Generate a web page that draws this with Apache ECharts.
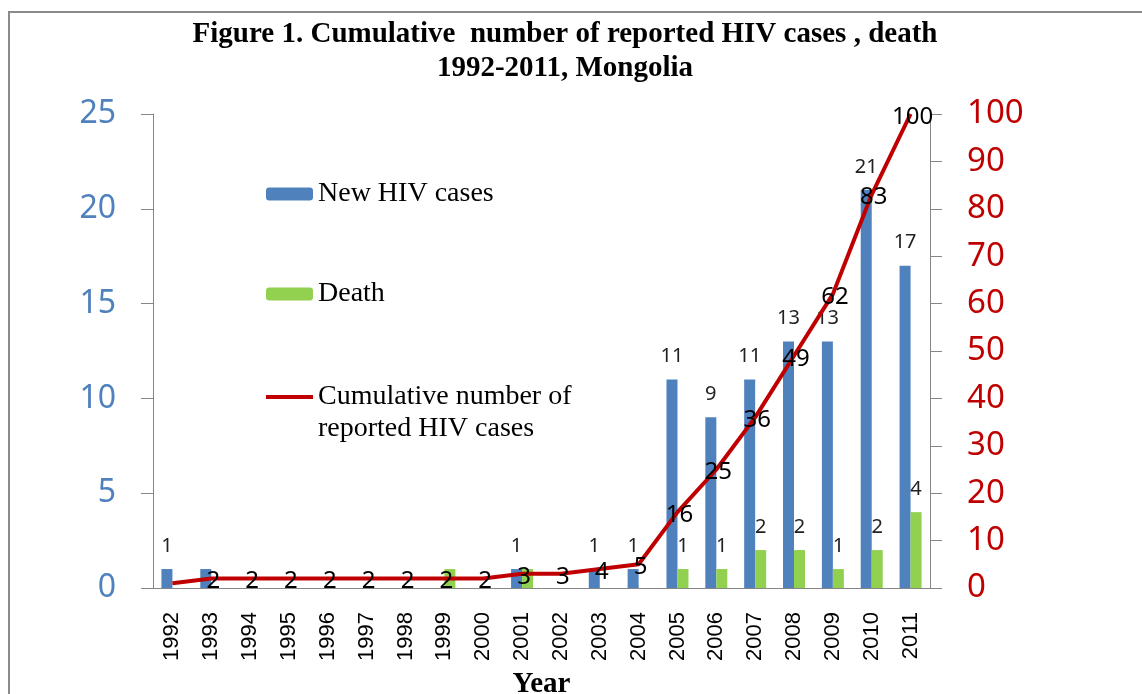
<!DOCTYPE html>
<html>
<head>
<meta charset="utf-8">
<script src="https://cdn.jsdelivr.net/npm/echarts@6/dist/echarts.min.js"></script>
<style>
  html, body { margin: 0; padding: 0; background: #fff; }
  #chart { width: 1142px; height: 694px; }
</style>
</head>
<body>
<div id="chart"></div>
<script>
// data
const years = ['1992', '1993', '1994', '1995', '1996', '1997', '1998', '1999', '2000', '2001',
  '2002', '2003', '2004', '2005', '2006', '2007', '2008', '2009', '2010', '2011']
const newCases = [1, 1, 0, 0, 0, 0, 0, 0, 0, 1, 0, 1, 1, 11, 9, 11, 13, 13, 21, 17]
const deaths = [0, 0, 0, 0, 0, 0, 0, 1, 0, 1, 0, 0, 0, 1, 1, 2, 2, 1, 2, 4]
const cumulative = [1, 2, 2, 2, 2, 2, 2, 2, 2, 3, 3, 4, 5, 16, 25, 36, 49, 62, 83, 100]
const leftTicks = [0, 5, 10, 15, 20, 25]
const rightTicks = [0, 10, 20, 30, 40, 50, 60, 70, 80, 90, 100]

// labels that the original figure does not show
const hiddenCaseLabels = ['1993']
const hiddenDeathLabels = ['1999', '2001']
const hiddenCumulativeLabels = ['1992']

const BLUE = '#4F81BD'
const GREEN = '#92D050'
const RED = '#C00000'
const AXIS = '#868686'

const chart = echarts.init(document.getElementById('chart'))

// bar items, value labels only where non zero and not hidden
const barItems = (values, hidden) => values.map((v, i) => ({
  value: v,
  label: { show: v > 0 && !hidden.includes(years[i]) }
}))

const option = {
  animation: false,
  title: {
    text: 'Figure 1. Cumulative  number of reported HIV cases , death\n1992-2011, Mongolia',
    left: 565,
    textAlign: 'center',
    top: 18,
    padding: 0,
    textStyle: {
      fontFamily: 'Liberation Serif',
      fontWeight: 'bold',
      fontSize: 29,
      lineHeight: 34,
      color: '#000'
    }
  },
  legend: [
    {
      orient: 'vertical',
      left: 266,
      top: 180,
      padding: 0,
      itemWidth: 47,
      itemHeight: 13,
      itemGap: 72,
      data: ['New HIV cases', 'Death'],
      textStyle: { fontFamily: 'Liberation Serif', fontSize: 28, color: '#000' }
    },
    {
      orient: 'vertical',
      left: 266,
      top: 349,
      padding: 0,
      itemWidth: 47,
      itemHeight: 4,
      data: [{ name: 'Cumulative number of reported HIV cases', icon: 'rect' }],
      // empty first line pushes the text below the line icon, as in the figure
      formatter: () => '\nCumulative number of\nreported HIV cases',
      textStyle: {
        fontFamily: 'Liberation Serif',
        fontSize: 28,
        lineHeight: 32,
        color: '#000'
      }
    }
  ],
  grid: { left: 153, right: 212, top: 114, bottom: 106, containLabel: false, outerBoundsMode: 'none' },
  xAxis: {
    type: 'category',
    data: years,
    name: 'Year',
    nameLocation: 'middle',
    nameGap: 82,
    nameTextStyle: { fontFamily: 'Liberation Serif', fontWeight: 'bold', fontSize: 29, color: '#000' },
    axisLine: { lineStyle: { color: AXIS, width: 1 } },
    axisTick: { length: 7, lineStyle: { color: AXIS } },
    axisLabel: {
      rotate: 90,
      margin: 24,
      interval: 0,
      fontFamily: 'Liberation Sans',
      fontSize: 22,
      color: '#000'
    }
  },
  yAxis: [
    {
      type: 'value',
      min: leftTicks[0],
      max: leftTicks[leftTicks.length - 1],
      interval: leftTicks[1] - leftTicks[0],
      splitLine: { show: false },
      axisLine: { show: true, lineStyle: { color: AXIS } },
      axisTick: { show: true, length: 12, lineStyle: { color: AXIS } },
      axisLabel: { margin: 37, fontFamily: 'Noto Sans', fontSize: 32, color: BLUE }
    },
    {
      type: 'value',
      position: 'right',
      min: rightTicks[0],
      max: rightTicks[rightTicks.length - 1],
      interval: rightTicks[1] - rightTicks[0],
      splitLine: { show: false },
      axisLine: { show: true, lineStyle: { color: AXIS } },
      axisTick: { show: true, length: 12, lineStyle: { color: AXIS } },
      axisLabel: { margin: 37, fontFamily: 'Noto Sans', fontSize: 33, color: RED }
    }
  ],
  series: [
    {
      name: 'New HIV cases',
      type: 'bar',
      yAxisIndex: 0,
      barWidth: 11,
      barGap: '0%',
      itemStyle: { color: BLUE },
      label: {
        position: 'top',
        distance: 13,
        fontFamily: 'Noto Sans',
        fontSize: 20,
        color: '#222'
      },
      data: barItems(newCases, hiddenCaseLabels)
    },
    {
      name: 'Death',
      type: 'bar',
      yAxisIndex: 0,
      barWidth: 11,
      itemStyle: { color: GREEN },
      label: {
        position: 'top',
        distance: 13,
        fontFamily: 'Noto Sans',
        fontSize: 20,
        color: '#222'
      },
      data: barItems(deaths, hiddenDeathLabels)
    },
    {
      name: 'Cumulative number of reported HIV cases',
      type: 'line',
      yAxisIndex: 1,
      symbol: 'circle',
      symbolSize: 0.1,
      showAllSymbol: true,
      z: 5,
      lineStyle: { color: RED, width: 4 },
      itemStyle: { color: RED },
      label: {
        show: true,
        position: 'inside',
        offset: [2, 3],
        fontFamily: 'Noto Sans',
        fontSize: 24,
        color: '#000'
      },
      data: cumulative.map((v, i) => ({
        value: v,
        label: { show: !hiddenCumulativeLabels.includes(years[i]) }
      }))
    }
  ],
  graphic: [
    {
      type: 'rect',
      silent: true,
      shape: { x: 9, y: 12, width: 1300, height: 900 },
      style: { fill: 'none', stroke: '#8a8a8a', lineWidth: 2 }
    }
  ]
}

chart.setOption(option)
</script>
</body>
</html>
